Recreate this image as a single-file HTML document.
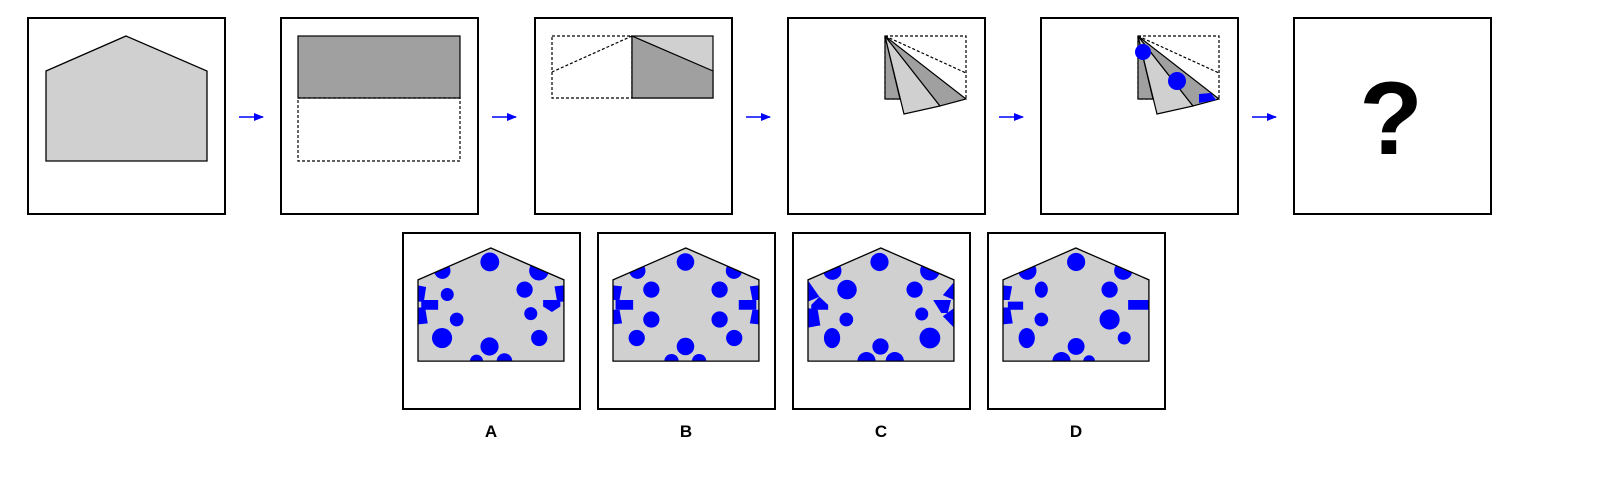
<!DOCTYPE html>
<html><head><meta charset="utf-8"><style>
html,body{margin:0;padding:0;background:#fff;}
svg{display:block;font-family:"Liberation Sans",sans-serif;}
</style></head><body>
<svg width="1610" height="490" viewBox="0 0 1610 490" xmlns="http://www.w3.org/2000/svg">
<defs>
<marker id="ah" markerUnits="userSpaceOnUse" markerWidth="10" markerHeight="8" refX="9" refY="4" orient="auto"><path d="M0,0 L10,4 L0,8 z" fill="#0000ff"/></marker>
<clipPath id="pent"><polygon points="0,98 224,0 449,98 449,348 0,348"/></clipPath>
</defs>
<g fill="#fff" stroke="#000" stroke-width="2">
<rect x="28" y="18" width="197" height="196"/>
<rect x="281" y="18" width="197" height="196"/>
<rect x="535" y="18" width="197" height="196"/>
<rect x="788" y="18" width="197" height="196"/>
<rect x="1041" y="18" width="197" height="196"/>
<rect x="1294" y="18" width="197" height="196"/>
</g>
<g stroke="#0000ff" stroke-width="1.5" marker-end="url(#ah)">
<line x1="239" y1="117" x2="263" y2="117"/><line x1="492" y1="117" x2="516" y2="117"/><line x1="746" y1="117" x2="770" y2="117"/><line x1="999" y1="117" x2="1023" y2="117"/><line x1="1252" y1="117" x2="1276" y2="117"/>
</g>
<polygon points="46,71 126,36 207,71 207,161 46,161" fill="#d0d0d0" stroke="#000" stroke-width="1.3"/>
<g stroke="#000" stroke-width="1.2">
<rect x="298" y="36" width="162" height="62" fill="#a0a0a0"/>
<rect x="298" y="98" width="162" height="63" fill="none" stroke-dasharray="3,2"/>
</g>
<g stroke="#000" stroke-width="1.2">
<rect x="552" y="36" width="80" height="62" fill="none" stroke-dasharray="3,2"/>
<line x1="632" y1="36" x2="552" y2="72" stroke-dasharray="3,2"/>
<rect x="632" y="36" width="81" height="62" fill="#d0d0d0"/>
<polygon points="632,36 713,71 713,98 632,98" fill="#a0a0a0"/>
</g>
<g stroke="#000" stroke-width="1.2">
<rect x="885" y="36" width="81" height="63" fill="none" stroke-dasharray="3,2"/>
<line x1="885" y1="36" x2="966" y2="73" stroke-dasharray="3,2"/>
<polygon points="885,36 885,99 900,99" fill="#a0a0a0"/>
<polygon points="885,36 904,114 940,106" fill="#d0d0d0"/>
<polygon points="885,36 940,106 966,99" fill="#a0a0a0"/>
</g>
<g stroke="#000" stroke-width="1.2">
<rect x="1138" y="36" width="81" height="63" fill="none" stroke-dasharray="3,2"/>
<line x1="1138" y1="36" x2="1219" y2="73" stroke-dasharray="3,2"/>
<polygon points="1138,36 1138,99 1153,99" fill="#a0a0a0"/>
<polygon points="1138,36 1157,114 1193,106" fill="#d0d0d0"/>
<polygon points="1138,36 1193,106 1219,99" fill="#a0a0a0"/>
<circle cx="1143" cy="52" r="8" fill="#0000ff" stroke="none"/>
<circle cx="1177" cy="81" r="9" fill="#0000ff" stroke="none"/>
<polygon points="1199,94 1211,93 1216,100 1199,103" fill="#0000ff" stroke="none"/>
</g>
<text x="1391" y="154" text-anchor="middle" font-size="104" font-weight="bold">?</text>

<g fill="#fff" stroke="#000" stroke-width="2">
<rect x="403" y="233" width="177" height="176"/>
<rect x="598" y="233" width="177" height="176"/>
<rect x="793" y="233" width="177" height="176"/>
<rect x="988" y="233" width="177" height="176"/>
</g>

<g transform="translate(418 248) scale(0.325)">
<polygon points="0,98 224,0 449,98 449,348 0,348" fill="#d0d0d0"/>
<g clip-path="url(#pent)" fill="#0000ff">
<circle cx="221" cy="43" r="29"/><circle cx="75" cy="70" r="25"/><circle cx="372" cy="70" r="30"/>
<circle cx="90" cy="143" r="20"/><circle cx="328" cy="128" r="25"/><circle cx="347" cy="202" r="20"/>
<circle cx="119" cy="220" r="21"/><circle cx="74" cy="277" r="31"/><circle cx="373" cy="277" r="25"/>
<circle cx="220" cy="303" r="28"/><circle cx="180" cy="348" r="20"/><circle cx="266" cy="348" r="24"/>
<polygon points="0,115 25,120 18,165 0,165"/><rect x="10" y="160" width="52" height="30"/><polygon points="0,183 22,183 30,232 0,235"/>
<polygon points="420,118 449,115 449,165 428,165"/><polygon points="385,160 438,160 438,180 412,197 385,180"/>
</g>
<polygon points="0,98 224,0 449,98 449,348 0,348" fill="none" stroke="#000" stroke-width="4"/>
</g>
<g transform="translate(613 248) scale(0.325)">
<polygon points="0,98 224,0 449,98 449,348 0,348" fill="#d0d0d0"/>
<g clip-path="url(#pent)" fill="#0000ff">
<circle cx="223" cy="43" r="27"/><circle cx="75" cy="70" r="25"/><circle cx="372" cy="70" r="25"/>
<circle cx="118" cy="128" r="25"/><circle cx="328" cy="128" r="25"/><circle cx="118" cy="220" r="25"/><circle cx="328" cy="220" r="25"/>
<circle cx="73" cy="277" r="25"/><circle cx="373" cy="277" r="25"/>
<circle cx="223" cy="303" r="27"/><circle cx="180" cy="348" r="22"/><circle cx="265" cy="348" r="22"/>
<polygon points="0,115 28,118 20,160 0,160"/><rect x="8" y="160" width="54" height="30"/><polygon points="0,190 20,190 28,232 0,235"/>
<polygon points="421,118 449,115 449,160 429,160"/><rect x="387" y="160" width="54" height="30"/><polygon points="429,190 449,190 449,235 421,232"/>
</g>
<polygon points="0,98 224,0 449,98 449,348 0,348" fill="none" stroke="#000" stroke-width="4"/>
</g>
<g transform="translate(808 248) scale(0.325)">
<polygon points="0,98 224,0 449,98 449,348 0,348" fill="#d0d0d0"/>
<g clip-path="url(#pent)" fill="#0000ff">
<circle cx="220" cy="43" r="28"/><circle cx="75" cy="70" r="28"/><circle cx="375" cy="70" r="30"/>
<circle cx="120" cy="128" r="30"/><circle cx="328" cy="128" r="25"/><circle cx="118" cy="220" r="21"/><circle cx="350" cy="203" r="20"/>
<ellipse cx="74" cy="277" rx="25" ry="31"/><circle cx="375" cy="277" r="32"/>
<circle cx="223" cy="303" r="25"/><circle cx="180" cy="348" r="28"/><circle cx="267" cy="348" r="28"/>
<polygon points="0,100 35,150 0,165"/><polygon points="10,175 35,150 62,175 62,190 10,190"/><polygon points="0,185 30,190 38,238 0,245"/>
<polygon points="449,105 449,160 415,145"/><polygon points="385,160 440,160 430,200 410,200"/><polygon points="449,185 449,245 415,210"/>
</g>
<polygon points="0,98 224,0 449,98 449,348 0,348" fill="none" stroke="#000" stroke-width="4"/>
</g>
<g transform="translate(1003 248) scale(0.325)">
<polygon points="0,98 224,0 449,98 449,348 0,348" fill="#d0d0d0"/>
<g clip-path="url(#pent)" fill="#0000ff">
<circle cx="225" cy="43" r="28"/><circle cx="75" cy="70" r="28"/><circle cx="370" cy="70" r="28"/>
<ellipse cx="118" cy="128" rx="20" ry="25"/><circle cx="328" cy="128" r="25"/><circle cx="118" cy="220" r="21"/><circle cx="328" cy="220" r="31"/>
<ellipse cx="73" cy="277" rx="25" ry="31"/><circle cx="373" cy="277" r="20"/>
<circle cx="225" cy="303" r="26"/><circle cx="180" cy="348" r="28"/><circle cx="265" cy="348" r="18"/>
<polygon points="0,115 28,118 20,160 0,160"/><rect x="15" y="165" width="47" height="25"/><polygon points="0,183 22,183 30,232 0,235"/>
<rect x="385" y="160" width="64" height="30"/>
</g>
<polygon points="0,98 224,0 449,98 449,348 0,348" fill="none" stroke="#000" stroke-width="4"/>
</g>
<g font-size="17" font-weight="bold" text-anchor="middle">
<text x="491" y="437">A</text>
<text x="686" y="437">B</text>
<text x="881" y="437">C</text>
<text x="1076" y="437">D</text>
</g>
</svg>
</body></html>
